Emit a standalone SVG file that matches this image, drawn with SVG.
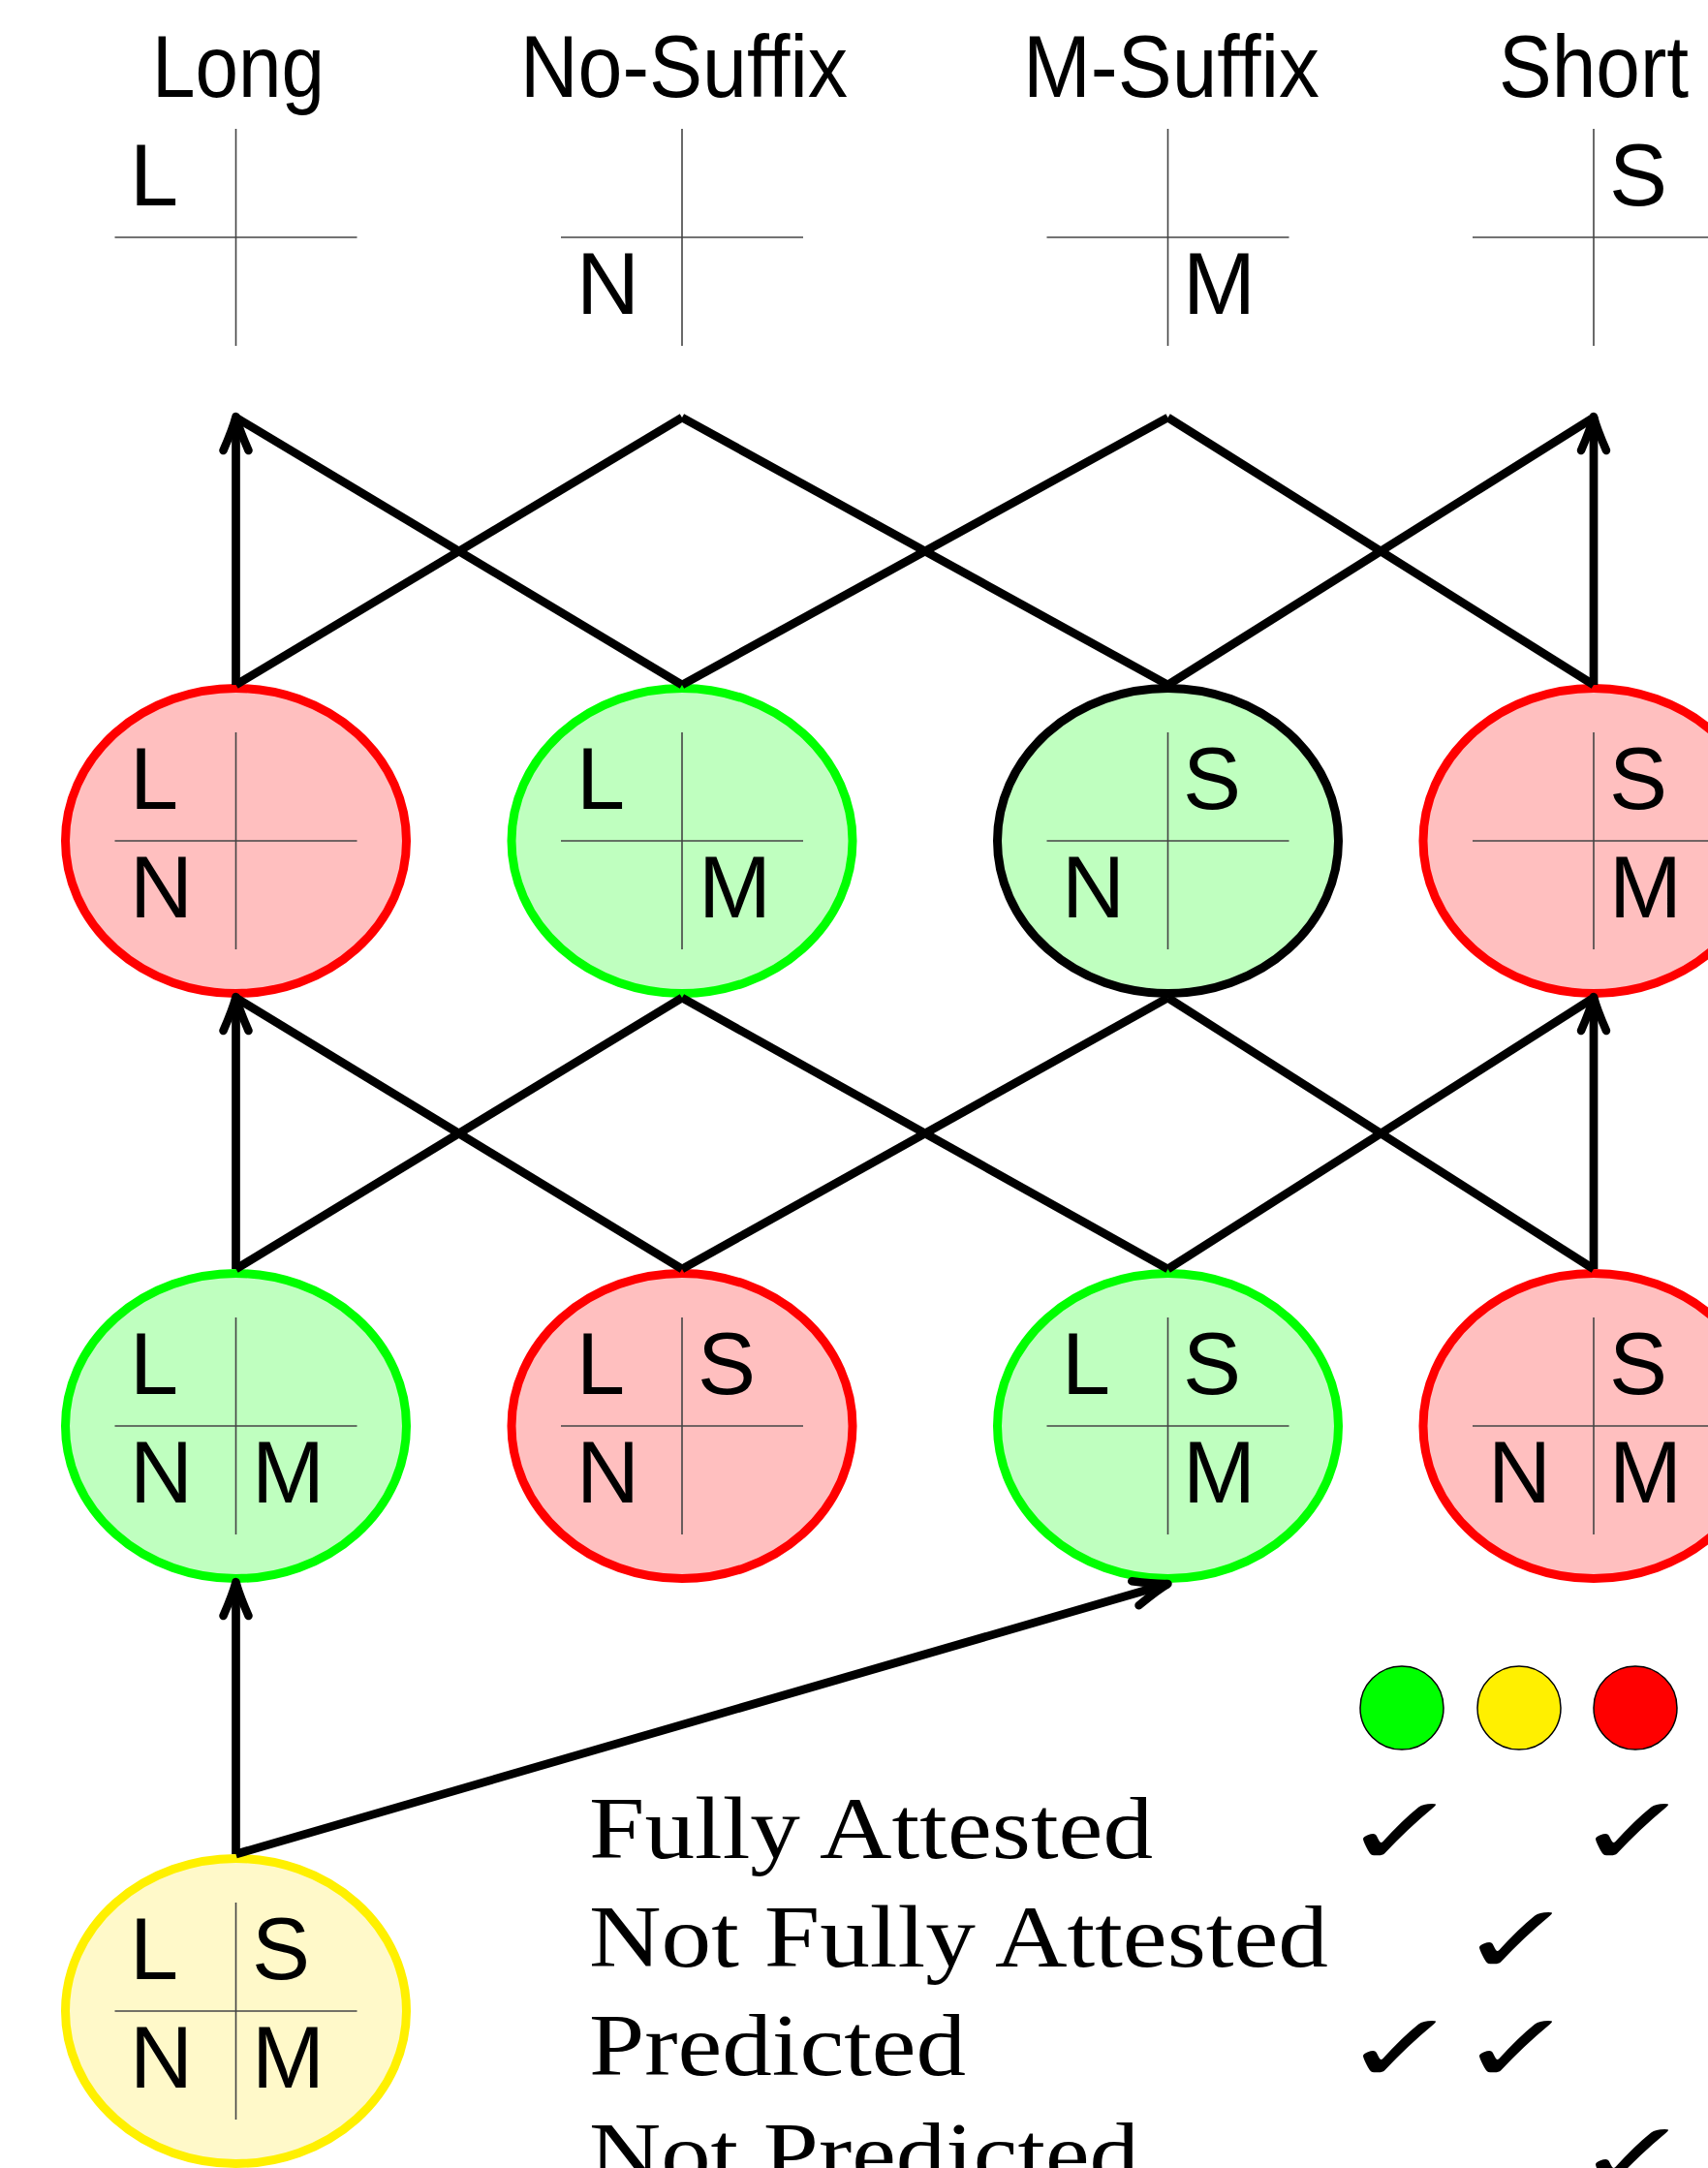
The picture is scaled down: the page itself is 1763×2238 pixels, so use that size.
<svg xmlns="http://www.w3.org/2000/svg" xmlns:xlink="http://www.w3.org/1999/xlink" width="1763" height="2238" viewBox="0 0 1763 2238">
<style>
.lt{font-family:"Liberation Sans",Arial,sans-serif;font-size:90px;fill:#000}
.hd{font-family:"Liberation Sans",Arial,sans-serif;font-size:90px;fill:#000;text-anchor:middle}
.lg{font-family:"Liberation Serif","Times New Roman",serif;font-size:90px;fill:#000}
.ck{font-family:"DejaVu Sans",sans-serif;font-size:100px;fill:#000;text-anchor:middle}
.cross line{stroke:#444;stroke-width:1.6}
.edge{stroke:#000;stroke-width:8.7;fill:none;stroke-linecap:butt}
.red{fill:#FFBFBF;stroke:#FF0000;stroke-width:9}
.green{fill:#BFFFBF;stroke:#00FF00;stroke-width:9}
.greenb{fill:#BFFFBF;stroke:#000;stroke-width:9}
.yellow{fill:#FFF9C9;stroke:#FFF000;stroke-width:9}
.dot{stroke:#000;stroke-width:1.5}
</style>
<defs>
<g id="cross" class="cross"><line x1="-125" y1="0" x2="125" y2="0"/><line x1="0" y1="-112" x2="0" y2="112"/></g>
<marker id="arr" markerUnits="userSpaceOnUse" viewBox="-50 -30 60 60" markerWidth="60" markerHeight="60" refX="0" refY="0" orient="auto" overflow="visible">
<path d="M-35,-13 Q-12,-3 0,0 Q-12,3 -35,13" fill="none" stroke="#000" stroke-width="8.5" stroke-linecap="round" stroke-linejoin="round"/>
</marker>
</defs>

<!-- header columns -->
<g id="h-long">
<text class="hd" x="246" y="100" textLength="178" lengthAdjust="spacingAndGlyphs">Long</text>
<use xlink:href="#cross" x="243.5" y="245"/>
<text class="lt" x="134" y="212">L</text>
</g>
<g id="h-nosuffix">
<text class="hd" x="706" y="100" textLength="338" lengthAdjust="spacingAndGlyphs">No-Suffix</text>
<use xlink:href="#cross" x="704" y="245"/>
<text class="lt" x="595" y="324">N</text>
</g>
<g id="h-msuffix">
<text class="hd" x="1209" y="100" textLength="306" lengthAdjust="spacingAndGlyphs">M-Suffix</text>
<use xlink:href="#cross" x="1205.5" y="245"/>
<text class="lt" x="1221" y="324">M</text>
</g>
<g id="h-short">
<text class="hd" x="1645" y="100" textLength="196" lengthAdjust="spacingAndGlyphs">Short</text>
<use xlink:href="#cross" x="1645" y="245"/>
<text class="lt" x="1661" y="212">S</text>
</g>

<!-- row 2 -->
<g id="n-LN">
<ellipse class="red" cx="243.5" cy="868" rx="176" ry="157.5"/>
<use xlink:href="#cross" x="243.5" y="868"/>
<text class="lt" x="134" y="835">L</text>
<text class="lt" x="134" y="947">N</text>
</g>
<g id="n-LM">
<ellipse class="green" cx="704" cy="868" rx="176" ry="157.5"/>
<use xlink:href="#cross" x="704" y="868"/>
<text class="lt" x="595" y="835">L</text>
<text class="lt" x="721" y="947">M</text>
</g>
<g id="n-SN">
<ellipse class="greenb" cx="1205.5" cy="868" rx="176" ry="157.5"/>
<use xlink:href="#cross" x="1205.5" y="868"/>
<text class="lt" x="1221" y="835">S</text>
<text class="lt" x="1096" y="947">N</text>
</g>
<g id="n-SM">
<ellipse class="red" cx="1645" cy="868" rx="176" ry="157.5"/>
<use xlink:href="#cross" x="1645" y="868"/>
<text class="lt" x="1661" y="835">S</text>
<text class="lt" x="1661" y="947">M</text>
</g>

<!-- row 3 -->
<g id="n-LNM">
<ellipse class="green" cx="243.5" cy="1472" rx="176" ry="157.5"/>
<use xlink:href="#cross" x="243.5" y="1472"/>
<text class="lt" x="134" y="1439">L</text>
<text class="lt" x="134" y="1551">N</text>
<text class="lt" x="260" y="1551">M</text>
</g>
<g id="n-LSN">
<ellipse class="red" cx="704" cy="1472" rx="176" ry="157.5"/>
<use xlink:href="#cross" x="704" y="1472"/>
<text class="lt" x="595" y="1439">L</text>
<text class="lt" x="720" y="1439">S</text>
<text class="lt" x="595" y="1551">N</text>
</g>
<g id="n-LSM">
<ellipse class="green" cx="1205.5" cy="1472" rx="176" ry="157.5"/>
<use xlink:href="#cross" x="1205.5" y="1472"/>
<text class="lt" x="1096" y="1439">L</text>
<text class="lt" x="1221" y="1439">S</text>
<text class="lt" x="1221" y="1551">M</text>
</g>
<g id="n-SNM">
<ellipse class="red" cx="1645" cy="1472" rx="176" ry="157.5"/>
<use xlink:href="#cross" x="1645" y="1472"/>
<text class="lt" x="1661" y="1439">S</text>
<text class="lt" x="1536" y="1551">N</text>
<text class="lt" x="1661" y="1551">M</text>
</g>

<!-- row 4 -->
<g id="n-LSNM">
<ellipse class="yellow" cx="243.5" cy="2076" rx="176" ry="157.5"/>
<use xlink:href="#cross" x="243.5" y="2076"/>
<text class="lt" x="134" y="2043">L</text>
<text class="lt" x="260" y="2043">S</text>
<text class="lt" x="134" y="2155">N</text>
<text class="lt" x="260" y="2155">M</text>
</g>

<!-- connectors -->
<g id="edges" class="edge">
<line x1="243.5" y1="707" x2="243.5" y2="430" marker-end="url(#arr)"/>
<line x1="243.5" y1="707" x2="704" y2="431"/>
<line x1="704" y1="707" x2="243.5" y2="431"/>
<line x1="704" y1="707" x2="1205.5" y2="431"/>
<line x1="1205.5" y1="707" x2="704" y2="431"/>
<line x1="1205.5" y1="707" x2="1645" y2="431"/>
<line x1="1645" y1="707" x2="1205.5" y2="431"/>
<line x1="1645" y1="707" x2="1645" y2="430" marker-end="url(#arr)"/>

<line x1="243.5" y1="1310" x2="243.5" y2="1029" marker-end="url(#arr)"/>
<line x1="243.5" y1="1310" x2="704" y2="1030"/>
<line x1="704" y1="1310" x2="243.5" y2="1030"/>
<line x1="704" y1="1310" x2="1205.5" y2="1030"/>
<line x1="1205.5" y1="1310" x2="704" y2="1030"/>
<line x1="1205.5" y1="1310" x2="1645" y2="1030"/>
<line x1="1645" y1="1310" x2="1205.5" y2="1030"/>
<line x1="1645" y1="1310" x2="1645" y2="1029" marker-end="url(#arr)"/>

<line x1="243.5" y1="1914" x2="243.5" y2="1633" marker-end="url(#arr)"/>
<line x1="243.5" y1="1914" x2="1205.5" y2="1635" marker-end="url(#arr)"/>
</g>

<!-- legend -->
<g id="legend">
<ellipse class="dot" cx="1447" cy="1763" rx="43" ry="43" fill="#00FF00"/>
<ellipse class="dot" cx="1568" cy="1763" rx="43" ry="43" fill="#FFF000"/>
<ellipse class="dot" cx="1688" cy="1763" rx="43" ry="43" fill="#FF0000"/>
<text class="lg" x="608" y="1918" textLength="582" lengthAdjust="spacingAndGlyphs">Fully Attested</text>
<text class="lg" x="608" y="2030" textLength="763" lengthAdjust="spacingAndGlyphs">Not Fully Attested</text>
<text class="lg" x="608" y="2142" textLength="389" lengthAdjust="spacingAndGlyphs">Predicted</text>
<text class="lg" x="608" y="2254" textLength="568" lengthAdjust="spacingAndGlyphs">Not Predicted</text>
<text class="ck" transform="translate(1446,1925) scale(1.45,1)">✓</text>
<text class="ck" transform="translate(1686,1925) scale(1.45,1)">✓</text>
<text class="ck" transform="translate(1566,2037) scale(1.45,1)">✓</text>
<text class="ck" transform="translate(1446,2149) scale(1.45,1)">✓</text>
<text class="ck" transform="translate(1566,2149) scale(1.45,1)">✓</text>
<text class="ck" transform="translate(1686,2261) scale(1.45,1)">✓</text>
</g>
</svg>
